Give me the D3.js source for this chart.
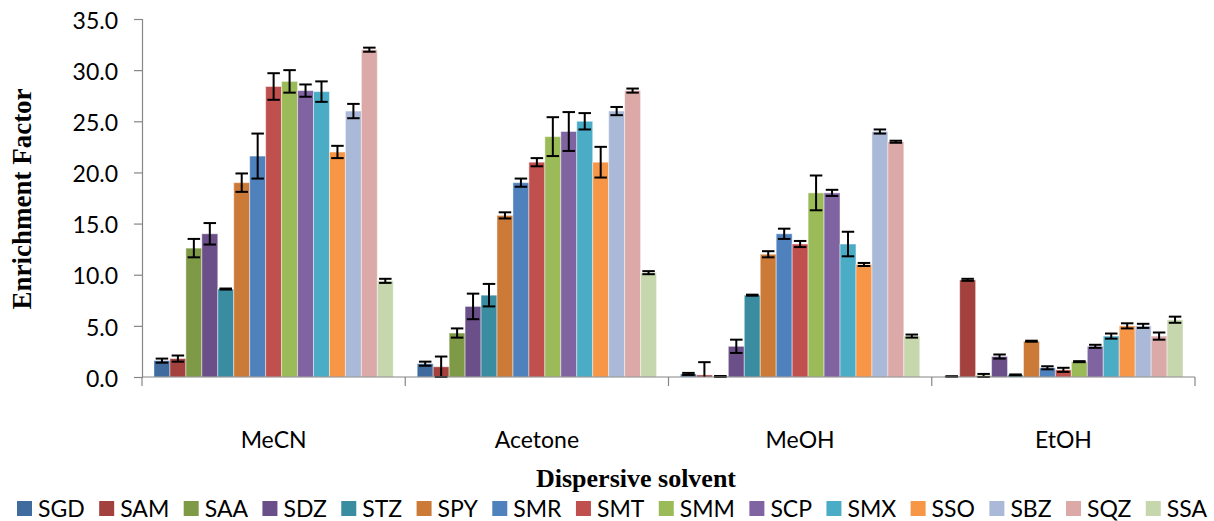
<!DOCTYPE html>
<html>
<head>
<meta charset="utf-8">
<script src="https://cdn.jsdelivr.net/npm/d3@7"></script>
<style>
  html, body { margin: 0; padding: 0; background: #fff; }
  svg { display: block; }
  .tick-label, .cat-label, .legend-label { font-family: Lato, "Open Sans", sans-serif; font-size: 23px; fill: #000; }
  .axis-title { font-family: "Liberation Serif", "Times New Roman", serif; font-weight: bold; fill: #000; }
</style>
</head>
<body>
<svg id="chart" width="1214" height="521"></svg>
<script>
// Dispersive solvents (groups) and sulfonamide analytes (series)
const solvents = ["MeCN", "Acetone", "MeOH", "EtOH"];
const analytes = ["SGD", "SAM", "SAA", "SDZ", "STZ", "SPY", "SMR", "SMT", "SMM", "SCP", "SMX", "SSO", "SBZ", "SQZ", "SSA"];
const colors = ["#3F6B9F", "#A2413E", "#7F9A46", "#6A4F88", "#3A8CA0", "#CC7A37",
                "#4F81BD", "#C0504D", "#9BBB59", "#8064A2", "#4BACC6", "#F79646",
                "#AAB9D7", "#DBA9A8", "#C6D7AD"];

// Enrichment factors and their standard deviations, per solvent
const efMeCN    = [1.6, 1.8, 12.6, 14.0, 8.6, 19.0, 21.6, 28.4, 28.9, 28.0, 27.9, 22.0, 26.0, 32.0, 9.4];
const sdMeCN    = [0.2, 0.3, 0.9, 1.05, 0.05, 0.9, 2.2, 1.3, 1.1, 0.6, 1.0, 0.6, 0.7, 0.2, 0.2];
const efAcetone = [1.3, 1.0, 4.3, 6.9, 8.0, 15.8, 19.0, 21.0, 23.5, 24.0, 25.0, 21.0, 26.0, 28.0, 10.2];
const sdAcetone = [0.2, 1.0, 0.45, 1.25, 1.1, 0.3, 0.4, 0.4, 1.9, 1.9, 0.8, 1.5, 0.4, 0.2, 0.15];
const efMeOH    = [0.3, 0.2, 0.05, 3.0, 8.0, 12.0, 14.0, 13.0, 18.0, 18.0, 13.0, 11.0, 24.0, 23.0, 4.0];
const sdMeOH    = [0.1, 1.25, 0.05, 0.65, 0.05, 0.3, 0.5, 0.3, 1.7, 0.3, 1.2, 0.15, 0.2, 0.1, 0.15];
const efEtOH    = [0.05, 9.5, 0.15, 2.0, 0.2, 3.5, 0.9, 0.7, 1.5, 3.0, 4.0, 5.0, 5.0, 4.0, 5.6];
const sdEtOH    = [0.02, 0.1, 0.15, 0.2, 0.05, 0.05, 0.15, 0.2, 0.05, 0.15, 0.25, 0.25, 0.2, 0.35, 0.3];

const yTicks = [0, 5, 10, 15, 20, 25, 30, 35];

const efBySolvent = [efMeCN, efAcetone, efMeOH, efEtOH];
const sdBySolvent = [sdMeCN, sdAcetone, sdMeOH, sdEtOH];

const svg = d3.select("#chart");
const margin = { top: 19, right: 19, bottom: 144, left: 142 };
const W = 1214, H = 521;
const plotW = W - margin.left - margin.right;
const plotH = H - margin.top - margin.bottom;

const x0 = d3.scaleBand().domain(solvents).range([0, plotW]).paddingInner(0).paddingOuter(0);
const x1 = d3.scaleBand().domain(analytes).range([0, x0.bandwidth()]).paddingInner(0).paddingOuter(0.75);
const y = d3.scaleLinear().domain([0, 35]).range([plotH, 0]);

const g = svg.append("g").attr("transform", `translate(${margin.left},${margin.top})`);

// Bars
const rows = [];
solvents.forEach((s, i) => analytes.forEach((a, j) => {
  rows.push({ solvent: s, analyte: a, idx: j, v: efBySolvent[i][j], e: sdBySolvent[i][j] });
}));

g.append("g").selectAll("rect").data(rows).join("rect")
  .attr("x", d => x0(d.solvent) + x1(d.analyte))
  .attr("y", d => y(d.v))
  .attr("width", x1.bandwidth())
  .attr("height", d => y(0) - y(d.v))
  .attr("fill", d => colors[d.idx])
  .attr("stroke", "rgba(255,255,255,0.45)")
  .attr("stroke-width", 1);

// Error bars
const capW = 12.5;
const eb = g.append("g").attr("stroke", "#000").attr("stroke-width", 2).attr("fill", "none");
rows.forEach(d => {
  const cx = x0(d.solvent) + x1(d.analyte) + x1.bandwidth() / 2;
  const hi = d.v + d.e;
  const lo = Math.max(0, d.v - d.e);
  eb.append("line").attr("x1", cx).attr("x2", cx).attr("y1", y(hi)).attr("y2", y(lo));
  eb.append("line").attr("x1", cx - capW / 2).attr("x2", cx + capW / 2).attr("y1", y(hi)).attr("y2", y(hi));
  if (d.v - d.e >= 0) {
    eb.append("line").attr("x1", cx - capW / 2).attr("x2", cx + capW / 2).attr("y1", y(lo)).attr("y2", y(lo));
  }
});

// Y axis
const yAxis = g.append("g").call(d3.axisLeft(y).tickValues(yTicks).tickSize(8).tickPadding(16).tickFormat(d3.format(".1f")));
yAxis.select(".domain").attr("stroke", "#868686").attr("stroke-width", 1.2);
yAxis.selectAll(".tick line").attr("stroke", "#868686").attr("stroke-width", 1.2);
yAxis.selectAll(".tick text").attr("class", "tick-label").attr("font-family", null).attr("font-size", null).attr("dy", "0.4em");

// X axis: baseline, group separators, category labels
const xg = g.append("g").attr("transform", `translate(0,${plotH})`);
xg.append("line").attr("x1", 0).attr("x2", plotW).attr("y1", 0).attr("y2", 0)
  .attr("stroke", "#868686").attr("stroke-width", 1.2);
const bounds = solvents.map(s => x0(s)).concat([plotW]);
xg.selectAll("line.sep").data(bounds).join("line").attr("class", "sep")
  .attr("x1", d => d).attr("x2", d => d).attr("y1", 0).attr("y2", 9)
  .attr("stroke", "#868686").attr("stroke-width", 1.2);
xg.selectAll("text.cat-label").data(solvents).join("text").attr("class", "cat-label")
  .attr("x", d => x0(d) + x0.bandwidth() / 2).attr("y", 71)
  .attr("text-anchor", "middle").text(d => d);

// Axis titles
svg.append("text").attr("class", "axis-title").attr("font-size", 26)
  .attr("x", 636).attr("y", 487).attr("text-anchor", "middle").text("Dispersive solvent");
svg.append("text").attr("class", "axis-title").attr("font-size", 27)
  .attr("transform", "translate(31,199) rotate(-90)").attr("text-anchor", "middle").text("Enrichment Factor");

// Legend, spread across the bottom
const legend = svg.append("g");
const sw = 15, swGap = 6;
const items = analytes.map((a, i) => {
  const it = legend.append("g");
  it.append("rect").attr("width", sw).attr("height", sw).attr("y", 501).attr("fill", colors[i]);
  const t = it.append("text").attr("class", "legend-label").attr("x", sw + swGap).attr("y", 517).text(a);
  return { node: it, w: sw + swGap + t.node().getComputedTextLength() };
});
const legStart = 17, legEnd = 1207;
const total = d3.sum(items, d => d.w);
const gap = (legEnd - legStart - total) / (items.length - 1);
let lx = legStart;
items.forEach(it => { it.node.attr("transform", `translate(${lx},0)`); lx += it.w + gap; });
</script>
</body>
</html>
